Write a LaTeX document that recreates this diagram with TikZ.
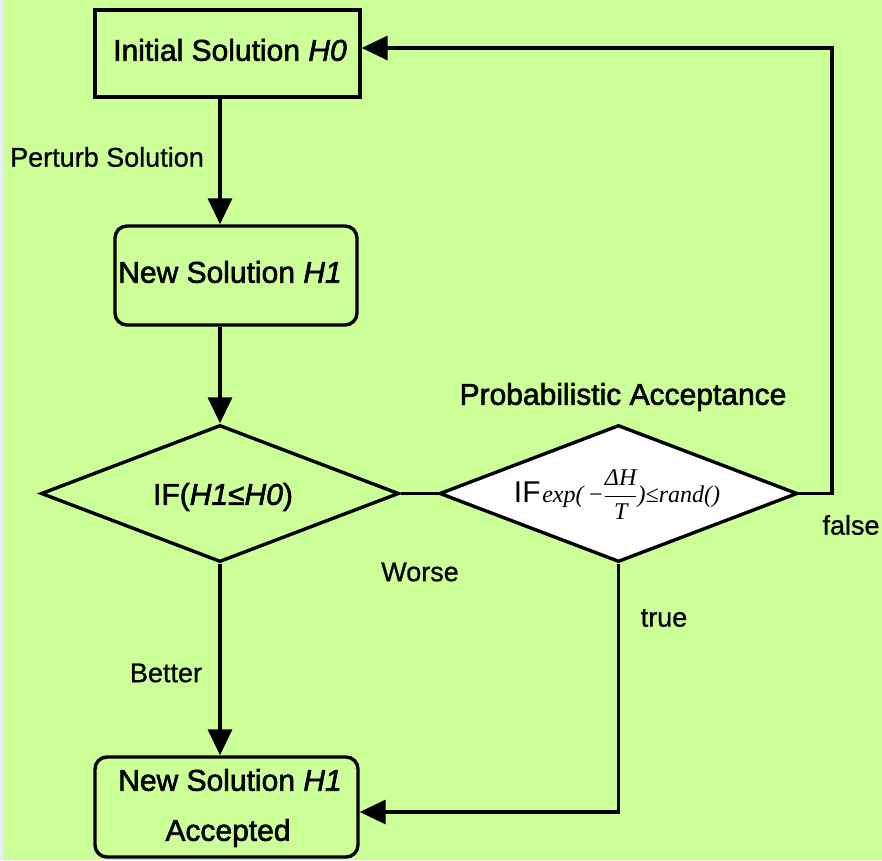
\documentclass[tikz,border=0pt]{standalone}
\usepackage{fontspec}
\setmainfont{Liberation Sans}
\newfontfamily\boxfont[FakeBold=2]{Liberation Sans}
\newfontfamily\labfont[FakeBold=0.8]{Liberation Sans}
\newfontfamily\timfont{Liberation Serif}
\usetikzlibrary{shapes.geometric,arrows.meta}
\definecolor{bggreen}{RGB}{205,255,153}
\definecolor{strip}{RGB}{232,238,250}
\tikzset{
  conn/.style={line width=3.4pt, draw=black},
  arr/.style={conn, -{Triangle[width=24pt,length=26pt]}},
  sqbox/.style={draw=black, line width=3.4pt, fill=bggreen, rectangle, inner sep=0pt},
  rndbox/.style={sqbox, rounded corners=12pt},
  decision/.style={draw=black, line width=3.4pt, diamond, shape aspect=2.63, inner sep=0pt, minimum width=358pt, minimum height=137pt},
  boxtext/.style={font=\boxfont\fontsize{30}{36}\selectfont},
  labtext/.style={font=\labfont\fontsize{27}{30}\selectfont, inner sep=0pt},
}
\newcommand{\fmlfont}{\timfont\fontsize{24}{24}\selectfont\itshape}
\begin{document}
\begin{tikzpicture}[x=1pt,y=-1pt]
\fill[bggreen] (0,0) rectangle (882,860);
\fill[strip] (0,0) rectangle (3,860);
\useasboundingbox (0,0) rectangle (882,860);

% boxes
\node[sqbox, minimum width=265pt, minimum height=87pt] (h0) at (227.5,53.5) {};
\node[boxtext] at (230,50) {Initial Solution \textit{H0}};

\node[rndbox, minimum width=242pt, minimum height=99pt] (h1) at (236,275.5) {};
\node[boxtext] at (230,272) {New Solution \textit{H1}};

\node[decision, fill=bggreen] (d1) at (220,493.5) {};
\node[boxtext] at (223,497) {IF(\textit{H1}≤\textit{H0})};

\node[decision, fill=white] (d2) at (618.5,493.5) {};
\node at (617,495) {{\fontsize{30}{30}\selectfont IF}\,{\fmlfont exp(\,−$\displaystyle\frac{\hbox{\fmlfont ΔH}}{\hbox{\fmlfont T}}$)≤rand()}};

\node[rndbox, minimum width=263pt, minimum height=100pt] (acc) at (226.5,807) {};
\node[boxtext] at (230,780) {New Solution \textit{H1}};
\node[boxtext] at (228,833) {Accepted};

% labels
\node[labtext] (lp) at (107,157) {Perturb Solution};
\node[boxtext, inner sep=0pt] (lpa) at (623,397) {Probabilistic Acceptance};
\node[labtext] (lw) at (420,572) {Worse};
\node[labtext] (lf) at (851,525) {false};
\node[labtext] (lt) at (664,618) {true};
\node[labtext] (lb) at (166,673) {Better};

% connectors
\coordinate (c1) at (832,493.5);
\coordinate (c2) at (832,48);
\coordinate (c3) at (618.5,812);
\draw[arr] (h0.south -| d1.north) -- (h1.north -| d1.north);
\draw[arr] (h1.south -| d1.north) -- (d1.north);
\draw[conn] (d1.east) -- (d2.west);
\draw[arr] (d1.south) -- (acc.north -| d1.south);
\draw[arr] (d2.east) -- (c1) -- (c2) -- (c2 -| h0.east);
\draw[arr] (d2.south) -- (c3) -- (c3 -| acc.east);
\end{tikzpicture}
\end{document}
